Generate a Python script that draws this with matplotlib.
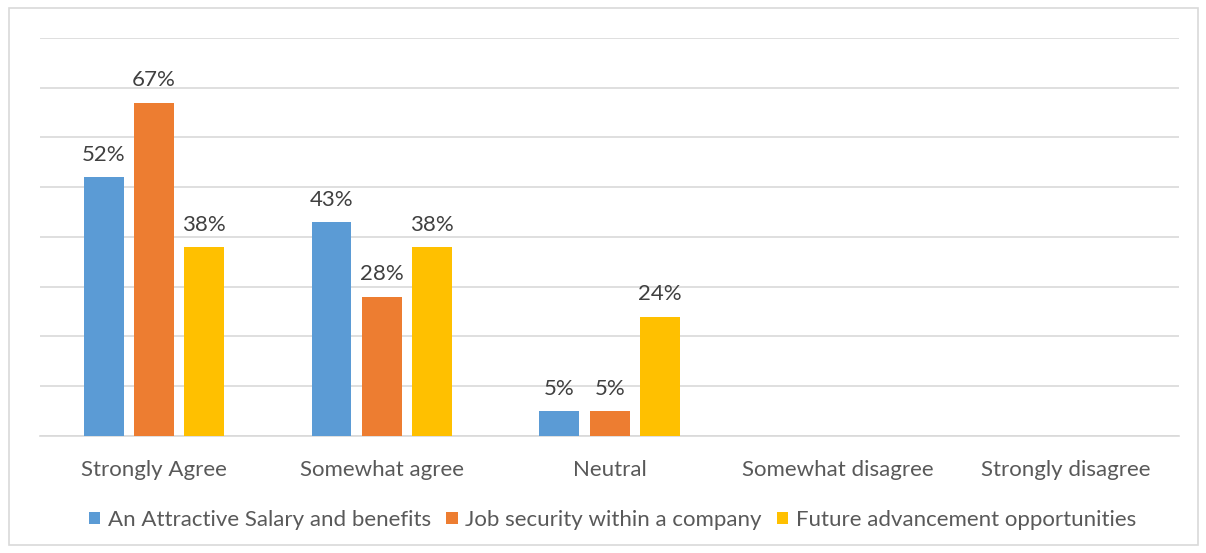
import matplotlib.pyplot as plt
import numpy as np
from matplotlib.patches import Rectangle

plt.rcParams['font.family'] = ['Lato', 'DejaVu Sans']

# Категории и значения (в процентах)
categories = ["Strongly Agree", "Somewhat agree", "Neutral", "Somewhat disagree", "Strongly disagree"]
salary = [52, 43, 5, None, None]
security = [67, 28, 5, None, None]
advancement = [38, 38, 24, None, None]

series = [
    ("An Attractive Salary and benefits", salary, "#5B9BD5"),
    ("Job security within a company", security, "#ED7D31"),
    ("Future advancement opportunities", advancement, "#FFC000"),
]

fig = plt.figure(figsize=(12.06, 5.53), dpi=100)
ax = fig.add_axes([0.0332, 0.2116, 0.9447, 0.7197])

# Рамка вокруг всей картинки
fig.patches.append(Rectangle((9 / 1206, 8 / 553), 1189 / 1206, 537 / 553,
                             transform=fig.transFigure, fill=False,
                             edgecolor="#D9D9D9", linewidth=1.2))

x = np.arange(len(categories))
width = 0.175
offset = 0.221

for i, (name, values, color) in enumerate(series):
    pos = x + (i - 1) * offset
    vals = [v if v is not None else 0 for v in values]
    bars = ax.bar(pos, vals, width, color=color, label=name, zorder=3)
    for b, v in zip(bars, values):
        if v is None:
            continue
        ax.text(b.get_x() + b.get_width() / 2, v + 2.5, f"{v}%",
                ha="center", va="bottom", fontsize=16, color="#404040")

ax.set_xlim(-0.5, len(categories) - 0.5)
ax.set_ylim(0, 80)
ax.set_yticks(np.arange(0, 81, 10))
ax.set_yticklabels([])
ax.tick_params(axis="y", length=0)
ax.tick_params(axis="x", length=0, pad=17)
ax.set_xticks(x)
ax.set_xticklabels(categories, fontsize=16, color="#595959")
ax.grid(axis="y", color="#D9D9D9", linewidth=1.2, zorder=0)
for s in ["top", "right", "left"]:
    ax.spines[s].set_visible(False)
ax.spines["bottom"].set_color("#D9D9D9")
ax.spines["bottom"].set_linewidth(1.2)

fig.legend(loc="center", bbox_to_anchor=(0.508, 1 - 520 / 553), ncol=3,
           frameon=False, fontsize=16, labelcolor="#595959",
           handlelength=0.5, handleheight=0.5, handletextpad=0.35,
           columnspacing=0.7)

fig.savefig("out.png", dpi=100)
